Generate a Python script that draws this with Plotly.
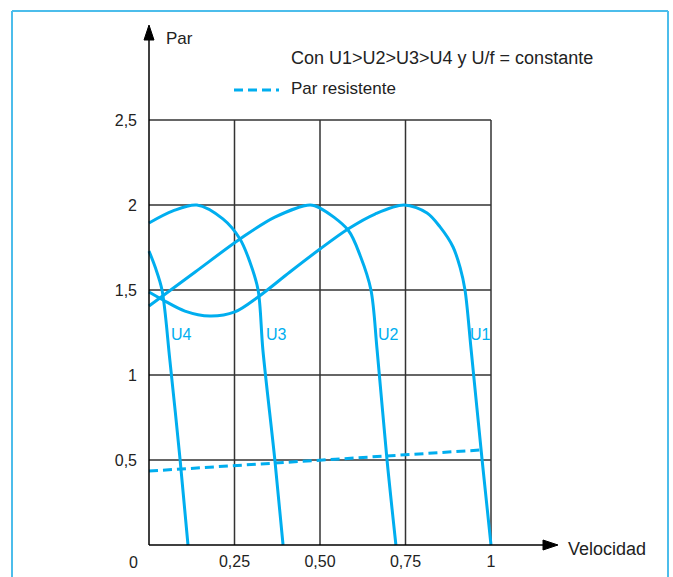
import plotly.graph_objects as go

# ---------------- data ----------------
u1_x = [0, 0.041, 0.105, 0.178, 0.251, 0.319, 0.412, 0.5, 0.582, 0.661, 0.746, 0.813, 0.851, 0.889, 0.910, 0.924, 0.942, 0.974, 1.0]
u1_y = [1.488, 1.441, 1.376, 1.347, 1.371, 1.459, 1.606, 1.741, 1.859, 1.947, 2.0, 1.953, 1.871, 1.753, 1.630, 1.5, 1.147, 0.5, 0]

u2_x = [0, 0.135, 0.266, 0.368, 0.471, 0.5, 0.582, 0.619, 0.649, 0.667, 0.696, 0.722]
u2_y = [1.406, 1.606, 1.8, 1.929, 2.0, 1.982, 1.853, 1.694, 1.5, 1.147, 0.5, 0]

u3_x = [0, 0.070, 0.140, 0.216, 0.266, 0.295, 0.319, 0.333, 0.368, 0.392]
u3_y = [1.894, 1.965, 2.0, 1.918, 1.8, 1.665, 1.5, 1.147, 0.5, 0]

u4_x = [0, 0.018, 0.038, 0.061, 0.091, 0.114]
u4_y = [1.729, 1.635, 1.5, 1.088, 0.5, 0]

par_res_x = [0, 0.971]
par_res_y = [0.435, 0.559]

curve_names = ["U1", "U2", "U3", "U4"]
label_x = [0.968, 0.700, 0.373, 0.0936]
label_y = 1.241

x_tickvals = [0.25, 0.5, 0.75, 1]
x_ticktext = ["0,25", "0,50", "0,75", "1"]
y_tickvals = [0.5, 1, 1.5, 2, 2.5]
y_ticktext = ["0,5", "1", "1,5", "2", "2,5"]

title_text = "Con U1>U2>U3>U4 y U/f = constante"
legend_text = "Par resistente"
y_label = "Par"
x_label = "Velocidad"

# ---------------- style ----------------
W, H = 673, 577
CYAN = "#00AEEF"
FRAME = "#4CBDEB"
GRID = "#333333"
TXT = "#222222"
FONT = "Liberation Sans, Arial, sans-serif"

# plot mapping: pixel x = 149 + 342*x ; pixel y = 545 - 170*y
X0PX, XS = 149, 342
Y0PX, YS = 545, 170
xr = [-X0PX / XS, (W - X0PX) / XS]
yr = [(Y0PX - H) / YS, Y0PX / YS]

fig = go.Figure()

for xs, ys in [(u1_x, u1_y), (u2_x, u2_y), (u3_x, u3_y), (u4_x, u4_y)]:
    fig.add_trace(go.Scatter(x=xs, y=ys, mode="lines",
                             line=dict(color=CYAN, width=3, shape="spline", smoothing=0.9),
                             showlegend=False, hoverinfo="skip"))

fig.add_trace(go.Scatter(x=par_res_x, y=par_res_y, mode="lines",
                         line=dict(color=CYAN, width=3, dash="9px,5px"),
                         showlegend=False, hoverinfo="skip"))

shapes = []
# grid lines
for xv in x_tickvals:
    shapes.append(dict(type="line", xref="x", yref="y", x0=xv, x1=xv, y0=0, y1=y_tickvals[-1],
                       line=dict(color=GRID, width=1.5), layer="below"))
for yv in y_tickvals:
    shapes.append(dict(type="line", xref="x", yref="y", x0=0, x1=x_tickvals[-1], y0=yv, y1=yv,
                       line=dict(color=GRID, width=1.5), layer="below"))

# axes with arrows
y_tip = (Y0PX - 25) / YS
y_base = (Y0PX - 40) / YS
x_tip = (558 - X0PX) / XS
x_base = (543 - X0PX) / XS
hw_x = 5 / XS
hw_y = 5 / YS
shapes.append(dict(type="line", xref="x", yref="y", x0=0, x1=0, y0=0, y1=y_base,
                   line=dict(color="black", width=1.5)))
shapes.append(dict(type="line", xref="x", yref="y", x0=0, x1=x_base, y0=0, y1=0,
                   line=dict(color="black", width=1.5)))
shapes.append(dict(type="path", xref="x", yref="y",
                   path=f"M 0 {y_tip} L {-hw_x} {y_base} L {hw_x} {y_base} Z",
                   fillcolor="black", line=dict(color="black", width=1)))
shapes.append(dict(type="path", xref="x", yref="y",
                   path=f"M {x_tip} 0 L {x_base} {hw_y} L {x_base} {-hw_y} Z",
                   fillcolor="black", line=dict(color="black", width=1)))

# legend dash sample
leg_y = (Y0PX - 90) / YS
shapes.append(dict(type="line", xref="x", yref="y",
                   x0=(234 - X0PX) / XS, x1=(279 - X0PX) / XS, y0=leg_y, y1=leg_y,
                   line=dict(color=CYAN, width=3, dash="9px,5px")))

# outer frame
fl, ft, fr = 12 / W, (H - 11) / H, 668 / W
shapes.append(dict(type="line", xref="paper", yref="paper", x0=fl, x1=fl, y0=-0.01, y1=ft,
                   line=dict(color=FRAME, width=2)))
shapes.append(dict(type="line", xref="paper", yref="paper", x0=fl, x1=fr, y0=ft, y1=ft,
                   line=dict(color=FRAME, width=2)))
shapes.append(dict(type="line", xref="paper", yref="paper", x0=fr, x1=fr, y0=-0.01, y1=ft,
                   line=dict(color=FRAME, width=2)))

annotations = []
for name, lx in zip(curve_names, label_x):
    annotations.append(dict(x=lx, y=label_y, xref="x", yref="y", text=name, showarrow=False,
                            font=dict(family=FONT, size=16, color=CYAN),
                            xanchor="center", yanchor="middle"))

annotations.append(dict(x=(289 - X0PX) / XS, y=(Y0PX - 58) / YS, xref="x", yref="y",
                        text=title_text, showarrow=False, xanchor="left", yanchor="middle",
                        font=dict(family=FONT, size=18, color=TXT)))
annotations.append(dict(x=(289 - X0PX) / XS, y=(Y0PX - 88) / YS, xref="x", yref="y",
                        text=legend_text, showarrow=False, xanchor="left", yanchor="middle",
                        font=dict(family=FONT, size=17, color=TXT)))
annotations.append(dict(x=(164 - X0PX) / XS, y=(Y0PX - 38) / YS, xref="x", yref="y",
                        text=y_label, showarrow=False, xanchor="left", yanchor="middle",
                        font=dict(family=FONT, size=17, color=TXT)))
annotations.append(dict(x=(566 - X0PX) / XS, y=(Y0PX - 549) / YS, xref="x", yref="y",
                        text=x_label, showarrow=False, xanchor="left", yanchor="middle",
                        font=dict(family=FONT, size=18, color=TXT)))
annotations.append(dict(x=(133 - X0PX) / XS, y=(Y0PX - 562) / YS, xref="x", yref="y",
                        text="0", showarrow=False, xanchor="center", yanchor="middle",
                        font=dict(family=FONT, size=16, color=TXT)))

fig.update_layout(
    width=W, height=H,
    margin=dict(l=0, r=0, t=0, b=0),
    paper_bgcolor="white", plot_bgcolor="white",
    showlegend=False,
    shapes=shapes, annotations=annotations,
    xaxis=dict(range=xr, anchor="free", position=(H - Y0PX) / H,
               tickvals=x_tickvals, ticktext=x_ticktext, ticks="", ticklabelstandoff=5,
               showgrid=False, zeroline=False, showline=False,
               tickfont=dict(family=FONT, size=16, color=TXT)),
    yaxis=dict(range=yr, anchor="free", position=X0PX / W,
               tickvals=y_tickvals, ticktext=y_ticktext, ticks="", ticklabelstandoff=12,
               showgrid=False, zeroline=False, showline=False,
               tickfont=dict(family=FONT, size=16, color=TXT)),
)

fig.write_html("out.html", config={"displayModeBar": False},
               post_script="document.body.style.margin='0';document.body.style.overflow='hidden';")
